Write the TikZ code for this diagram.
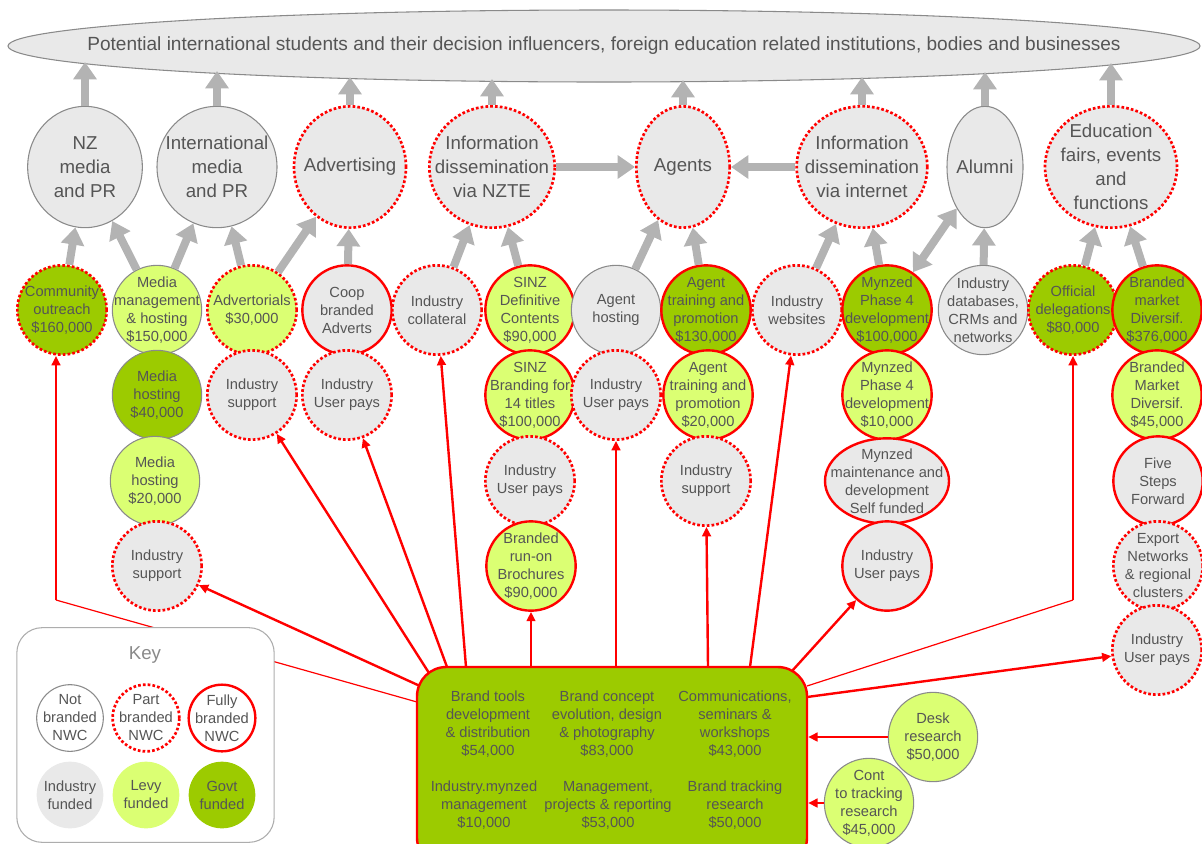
\documentclass[tikz,border=0pt]{standalone}
\usepackage{fontspec}
\setmainfont{Liberation Sans}
\usetikzlibrary{shapes.geometric,arrows.meta}

\definecolor{industry}{HTML}{E9E9E9}
\definecolor{levy}{HTML}{DBFF73}
\definecolor{govt}{HTML}{9CCB00}
\definecolor{nwc}{HTML}{FF0000}
\definecolor{rim}{HTML}{8A8A8A}
\definecolor{liftgrey}{HTML}{B3B3B3}
\definecolor{ink}{HTML}{555555}

\tikzset{
  txt/.style={font=\fontsize{11}{13.5}\selectfont, text=ink, align=center, inner sep=0pt},
  bigtxt/.style={txt, font=\fontsize{14}{18}\selectfont},
  bubble/.style={ellipse, minimum width=67pt, minimum height=67pt, inner sep=0pt},
  level/.style={ellipse, minimum height=91pt, inner sep=0pt, fill=industry},
  keydot/.style={circle, minimum size=50pt, inner sep=0pt},
  notb/.style={draw=rim, line width=0.8pt},
  partb/.style={draw=nwc, line width=2pt, dash pattern=on 2pt off 1.6pt},
  fullb/.style={draw=nwc, line width=1.8pt},
  indf/.style={fill=industry},
  levyf/.style={fill=levy},
  govf/.style={fill=govt},
  lift/.style={draw=liftgrey, line width=6pt, -{Triangle[length=13pt,width=17pt]}},
  feed/.style={draw=nwc, line width=1.8pt, -{Triangle[length=7pt,width=6.5pt]}},
  thinfeed/.style={draw=nwc, line width=0.9pt},
}

% shape node plus its text on top
\newcommand{\bub}[5][txt]{%
  \node[#3] (#2) at (#4) {};
  \node[#1] (#2-t) at (#2) {#5};}

\begin{document}
\begin{tikzpicture}[x=0.75pt,y=-0.75pt]
\useasboundingbox (0,0) rectangle (1202,843);

% audience
\bub[bigtxt, font=\fontsize{14.3}{17}\selectfont]{top}{ellipse, minimum width=894pt, minimum height=54pt, inner sep=0pt, fill=industry, draw=rim, line width=0.8pt}{604,46}{Potential international students and their decision influencers, foreign education related institutions, bodies and businesses}

% channels
\bub[bigtxt]{nzm}{level, notb, minimum width=86pt}{85,167}{NZ\\media\\and PR}
\bub[bigtxt]{intl}{level, notb, minimum width=90pt}{217,167}{International\\media\\and PR}
\bub[bigtxt]{advg}{level, partb, minimum width=84pt}{350,167}{Advertising}
\bub[bigtxt]{nzte}{level, partb, minimum width=94pt}{492,167}{Information\\dissemination\\via NZTE}
\bub[bigtxt]{agents}{level, partb, minimum width=70pt}{683,167}{Agents}
\bub[bigtxt]{inet}{level, partb, minimum width=98pt}{862,167}{Information\\dissemination\\via internet}
\bub[bigtxt]{alumni}{level, notb, minimum width=57pt}{985,167}{Alumni}
\bub[bigtxt]{edu}{level, partb, minimum width=99pt}{1111,167}{Education\\fairs, events\\and\\functions}

% activities, row 1
\bub{co}{bubble, govf, partb}{62,310}{Community\\outreach\\\$160,000}
\bub{mm}{bubble, levyf, notb}{157,310}{Media\\management\\\& hosting\\\$150,000}
\bub{advt}{bubble, levyf, partb}{252,310}{Advertorials\\\$30,000}
\bub{coop}{bubble, indf, fullb}{347,310}{Coop\\branded\\Adverts}
\bub{icol}{bubble, indf, partb}{437,310}{Industry\\collateral}
\bub{sdc}{bubble, levyf, fullb}{530,310}{SINZ\\Definitive\\Contents\\\$90,000}
\bub{ahost}{bubble, indf, notb}{616,310}{Agent\\hosting}
\bub{atr1}{bubble, govf, fullb}{706,310}{Agent\\training and\\promotion\\\$130,000}
\bub{iweb}{bubble, indf, partb}{797,310}{Industry\\websites}
\bub{myn1}{bubble, govf, fullb}{887,310}{Mynzed\\Phase 4\\development\\\$100,000}
\bub{idb}{bubble, indf, notb}{983,310}{Industry\\databases,\\CRMs and\\networks}
\bub{offd}{bubble, govf, partb}{1073,310}{Official\\delegations\\\$80,000}
\bub{bmd1}{bubble, govf, fullb}{1157,310}{Branded\\market\\Diversif.\\\$376,000}

% row 2
\bub{mh40}{bubble, govf, notb}{157,395}{Media\\hosting\\\$40,000}
\bub{isup1}{bubble, indf, partb}{252,395}{Industry\\support}
\bub{iup1}{bubble, indf, partb}{347,395}{Industry\\User pays}
\bub{sbr}{bubble, levyf, fullb}{530,395}{SINZ\\Branding for\\14 titles\\\$100,000}
\bub{iup2}{bubble, indf, partb}{616,395}{Industry\\User pays}
\bub{atr2}{bubble, levyf, fullb}{708,395}{Agent\\training and\\promotion\\\$20,000}
\bub{myn2}{bubble, levyf, fullb}{887,395}{Mynzed\\Phase 4\\development\\\$10,000}
\bub{bmd2}{bubble, levyf, fullb}{1157,395}{Branded\\Market\\Diversif.\\\$45,000}

% row 3
\bub{mh20}{bubble, levyf, notb}{155,481}{Media\\hosting\\\$20,000}
\bub{iup3}{bubble, indf, partb}{530,481}{Industry\\User pays}
\bub{isup2}{bubble, indf, partb}{706,481}{Industry\\support}
\bub{mynm}{bubble, indf, fullb, minimum width=93pt, minimum height=64pt}{887,481}{Mynzed\\maintenance and\\development\\Self funded}
\bub{fsf}{bubble, indf, fullb}{1158,481}{Five\\Steps\\Forward}

% row 4 and 5
\bub{isup3}{bubble, indf, partb}{157,566}{Industry\\support}
\bub{brb}{bubble, levyf, fullb}{531,566}{Branded\\run-on\\Brochures\\\$90,000}
\bub{iup4}{bubble, indf, fullb}{887,566}{Industry\\User pays}
\bub{exn}{bubble, indf, partb}{1158,566}{Export\\Networks\\\& regional\\clusters}
\bub{iup5}{bubble, indf, partb}{1157,650}{Industry\\User pays}

% research inputs
\bub{desk}{bubble, levyf, notb}{933,737}{Desk\\research\\\$50,000}
\bub{cont}{bubble, levyf, notb}{869,803}{Cont\\to tracking\\research\\\$45,000}

% core programme
\node[rectangle, rounded corners=22pt, minimum width=292.5pt, minimum height=150pt,
      fill=govt, draw=nwc, line width=1.8pt] (hub) at (612,767) {};
\node[txt] (hub1) at (488,724) {Brand tools\\development\\\& distribution\\\$54,000};
\node[txt] (hub2) at (607,724) {Brand concept\\evolution, design\\\& photography\\\$83,000};
\node[txt] (hub3) at (735,724) {Communications,\\seminars \&\\workshops\\\$43,000};
\node[txt] (hub4) at (484,805) {Industry.mynzed\\management\\\$10,000};
\node[txt] (hub5) at (608,805) {Management,\\projects \& reporting\\\$53,000};
\node[txt] (hub6) at (735,805) {Brand tracking\\research\\\$50,000};

% grey flows, up into the audience band
\foreach \n/\x/\y in {nzm/85/62, intl/217/71, advg/350/77, nzte/492/79,
                      agents/683/80, inet/862/77, alumni/985/72, edu/1111/63}{
  \coordinate (u\n) at (\x,\y);
  \draw[lift] (\n) -- (u\n);
}
\draw[lift] (co) -- (nzm);
\draw[lift] (mm) -- (nzm);
\draw[lift] (mm) -- (intl);
\draw[lift] (advt) -- (intl);
\draw[lift] (advt) -- (advg);
\draw[lift] (coop) -- (advg);
\draw[lift] (icol) -- (nzte);
\draw[lift] (sdc) -- (nzte);
\draw[lift] (ahost) -- (agents);
\draw[lift] (atr1) -- (agents);
\draw[lift] (iweb) -- (inet);
\draw[lift] (myn1) -- (inet);
\draw[lift, {Triangle[length=13pt,width=17pt]}-{Triangle[length=13pt,width=17pt]}] (myn1) -- (alumni);
\draw[lift] (idb) -- (alumni);
\draw[lift] (offd) -- (edu);
\draw[lift] (bmd1) -- (edu);
\draw[lift] (nzte) -- (agents);
\draw[lift] (inet) -- (agents);

% red funding lines
\coordinate (hl) at (417,702);
\coordinate (cbend) at (56,600);
\coordinate (hc) at (420,686);
\coordinate (h1) at (429,673);
\coordinate (h2) at (447,667);
\coordinate (h3) at (466,667);
\coordinate (h4) at (531,667);
\coordinate (h5) at (616,667);
\coordinate (h6) at (708,667);
\coordinate (h7) at (750,667);
\coordinate (hr) at (792,671);
\coordinate (he) at (807,686);
\coordinate (obend) at (1073,600);
\coordinate (he2) at (807,697);

\draw[thinfeed] (hl) -- (cbend);
\draw[feed] (cbend) -- (cbend |- co.south);
\draw[feed] (hc) -- (isup3);
\draw[feed] (h1) -- (isup1);
\draw[feed] (h2) -- (iup1);
\draw[feed] (h3) -- (icol);
\draw[feed] (h4) -- (brb);
\draw[feed] (h5) -- (iup2);
\draw[feed] (h6) -- (isup2);
\draw[feed] (h7) -- (iweb);
\draw[feed] (hr) -- (iup4);
\draw[thinfeed] (he) -- (obend);
\draw[feed] (obend) -- (offd);
\draw[feed] (he2) -- (iup5);
\draw[feed] (desk) -- (desk -| hub.east);
\draw[feed] (cont) -- (cont -| hub.east);

% key
\node[rectangle, rounded corners=19pt, minimum width=193pt, minimum height=161pt,
      fill=white, draw=rim!70, line width=0.8pt] (key) at (145.5,735) {};
\node[bigtxt, text=rim] (keyt) at (145,655) {Key};
\bub{k1}{keydot, fill=white, notb}{70,718}{Not\\branded\\NWC}
\bub{k2}{keydot, fill=white, partb}{146,718}{Part\\branded\\NWC}
\bub{k3}{keydot, fill=white, fullb}{222,718}{Fully\\branded\\NWC}
\bub{k4}{keydot, indf}{70,795}{Industry\\funded}
\bub{k5}{keydot, levyf}{146,795}{Levy\\funded}
\bub{k6}{keydot, govf}{222,795}{Govt\\funded}

\end{tikzpicture}
\end{document}
